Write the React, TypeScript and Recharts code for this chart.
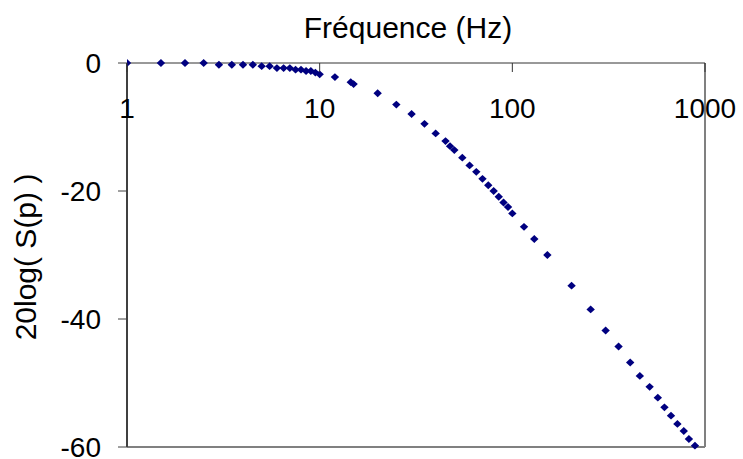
import React from 'react';
import { ScatterChart, Scatter, XAxis, YAxis, ReferenceLine, Label } from 'recharts';

const frequencyHz = [
  1, 1.5, 2, 2.5, 3, 3.5, 4, 4.5, 5, 5.5, 6, 6.5, 7, 7.5, 8, 8.5, 9, 9.5, 10,
  12, 14.5, 15, 20, 25, 30, 35, 40, 45, 47.5, 50, 55, 60, 65, 70, 75, 80, 85, 90, 95, 100,
  115, 130, 152, 203, 255, 305, 356, 409, 459, 516, 569, 616, 666, 719, 776, 825, 887,
];
const gainDb = [
  0, 0, 0, 0, -0.27, -0.27, -0.27, -0.27, -0.5, -0.5, -0.8, -0.8, -0.8, -1.05, -1.05, -1.25, -1.25, -1.5, -1.77,
  -2.2, -3.0, -3.3, -4.73, -6.5, -7.97, -9.5, -11.0, -12.2, -13.0, -13.6, -14.8, -16.0, -17.0, -18.1, -19.1, -20.0, -20.9, -21.8, -22.5, -23.5,
  -25.6, -27.5, -30.0, -34.8, -38.5, -41.8, -44.3, -46.8, -48.9, -50.6, -52.3, -53.8, -55.1, -56.4, -57.5, -58.75, -59.8,
];
const xTicks = [1, 10, 100, 1000];
const yTicks = [0, -20, -40, -60];
const xTitle = 'Fréquence (Hz)';
const yTitle = '20log( S(p) )';

const data = frequencyHz.map((f, i) => ({ f, g: gainDb[i] }));

const FONT = '"Liberation Sans", Arial, sans-serif';

const Diamond = (props: any) => {
  const { cx, cy } = props;
  if (cx == null || cy == null) return null;
  const w = 4.2;
  const h = 3.9;
  return (
    <path
      d={`M${cx},${cy - h}L${cx + w},${cy}L${cx},${cy + h}L${cx - w},${cy}Z`}
      fill="#000080"
      stroke="none"
    />
  );
};

const XTick = (props: any) => {
  const { x, y, payload } = props;
  return (
    <g>
      <line x1={x} y1={y} x2={x} y2={y + 9} stroke="#333333" strokeWidth={1} />
      <text x={x} y={y + 55} textAnchor="middle" fontSize={28} fontFamily={FONT} fill="#000">
        {payload.value}
      </text>
    </g>
  );
};

export default function App() {
  return (
    <div style={{ position: 'absolute', left: 0, top: 0, background: '#fff' }}>
      <ScatterChart width={743} height={459} margin={{ top: 13, right: 38, bottom: 12, left: 27 }}>
        <XAxis
          dataKey="f"
          type="number"
          scale="log"
          domain={[1, 1000]}
          ticks={xTicks}
          allowDataOverflow
          orientation="top"
          height={50}
          tickSize={0}
          tickMargin={0}
          tickLine={false}
          tick={<XTick />}
          axisLine={{ stroke: '#333333', strokeWidth: 1 }}
          interval={0}
        >
          <Label
            content={() => (
              <text x={408} y={38} textAnchor="middle" fontSize={30} fontFamily={FONT} fill="#000">
                {xTitle}
              </text>
            )}
          />
        </XAxis>
        <YAxis
          dataKey="g"
          type="number"
          domain={[-60, 0]}
          ticks={yTicks}
          width={100}
          tickSize={9}
          tickMargin={17}
          interval={0}
          axisLine={{ stroke: '#404040', strokeWidth: 2 }}
          tickLine={{ stroke: '#404040', strokeWidth: 1 }}
          tick={{ fontSize: 28, fontFamily: FONT, fill: '#000' }}
        >
          <Label
            content={() => (
              <text
                transform="translate(36,257) rotate(-90)"
                textAnchor="middle"
                fontSize={30}
                fontFamily={FONT}
                fill="#000"
              >
                {yTitle}
              </text>
            )}
          />
        </YAxis>
        <ReferenceLine x={1000} stroke="#808080" strokeWidth={2} ifOverflow="visible" />
        <ReferenceLine y={-60} stroke="#808080" strokeWidth={2} ifOverflow="visible" />
        <Scatter data={data} shape={<Diamond />} isAnimationActive={false} />
      </ScatterChart>
    </div>
  );
}
